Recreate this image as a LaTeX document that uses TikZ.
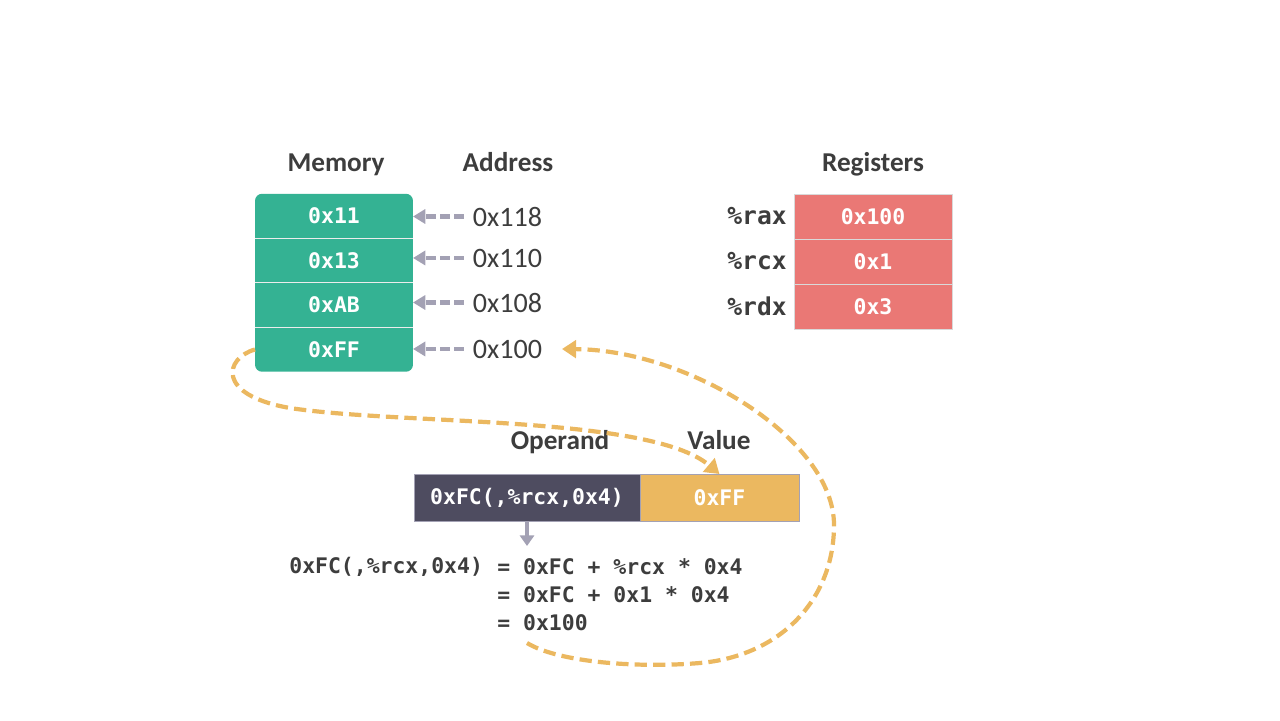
\documentclass[tikz,border=0pt]{standalone}
\usepackage{fontspec}
\setmainfont{Carlito}
\newfontfamily\codefont{DejaVu Sans Mono}
\usetikzlibrary{arrows.meta,backgrounds,fit,positioning}
\definecolor{memgreen}{HTML}{34B293}
\definecolor{regred}{HTML}{EA7875}
\definecolor{opdark}{HTML}{4E4C60}
\definecolor{valgold}{HTML}{EBB860}
\definecolor{arrowgray}{HTML}{A3A1B4}
\definecolor{txtgray}{HTML}{3D3D3D}

\begin{document}
\begin{tikzpicture}[x=0.02cm,y=-0.02cm,node distance=0pt]
\tikzstyle{title}=[font=\bfseries\fontsize{15.5}{18}\selectfont,text=txtgray,anchor=base]
\tikzstyle{cell}=[minimum width=3.16cm,minimum height=0.89cm,inner sep=0pt,outer sep=0pt,text=white,font=\codefont\bfseries\fontsize{12.2}{14}\selectfont]
\tikzstyle{regcell}=[cell,fill=regred,draw=black!15,minimum height=0.9cm]
\tikzstyle{addr}=[font=\fontsize{16}{19}\selectfont,text=txtgray,anchor=base west,inner sep=2pt]
\tikzstyle{reg}=[font=\codefont\bfseries\fontsize{14}{17}\selectfont,text=txtgray,anchor=east,inner sep=4pt]
\tikzstyle{code}=[font=\codefont\bfseries\fontsize{12.2}{14}\selectfont,text=txtgray,inner sep=0pt,anchor=west]
\tikzstyle{pointer}=[-{Triangle[length=7pt,width=8pt]},arrowgray,line width=2.4pt,dash pattern=on 5.5pt off 2.5pt,shorten <=3pt]
\tikzstyle{follow}=[-{Triangle[length=8pt,width=10pt]},valgold,line width=2.4pt,dash pattern=on 7pt off 3.5pt]

\useasboundingbox (0,0) rectangle (1280,720);

% memory
\node[title] (memt) at (336,171) {Memory};
\node[title] (addrt) at (508,171) {Address};
\node[cell] (m0) at (334,216) {0x11};
\node[cell] (m1) [below=of m0] {0x13};
\node[cell] (m2) [below=of m1] {0xAB};
\node[cell] (m3) [below=of m2] {0xFF};
\begin{scope}[on background layer]
\node[fit=(m0)(m3),inner sep=0pt,fill=memgreen,rounded corners=4pt] (mem) {};
\end{scope}
\foreach \i in {0,1,2}
  \draw[white!85!gray,line width=0.7pt] (m\i.south west) -- (m\i.south east);

\node[addr] (a0) at (469,226) {0x118};
\node[addr] (a1) at (469,267) {0x110};
\node[addr] (a2) at (469,312) {0x108};
\node[addr] (a3) at (469,358) {0x100};
\foreach \i in {0,1,2,3}
  \draw[pointer] (a\i.west) -- (a\i.west -| m\i.east);

% registers
\node[title] (regt) at (873,171) {Registers};
\node[regcell] (r0) at (873,216.5) {0x100};
\node[regcell] (r1) [below=of r0] {0x1};
\node[regcell] (r2) [below=of r1] {0x3};
\node[reg] (l0) at (r0.west) {\%rax};
\node[reg] (l1) at (r1.west) {\%rcx};
\node[reg] (l2) at (r2.west) {\%rdx};

% operand
\node[title] (opt) at (560,449) {Operand};
\node[title] (valt) at (719,449) {Value};
\node[cell,fill=opdark,draw=arrowgray,minimum width=4.52cm,minimum height=0.94cm] (op) at (527,497.5) {0xFC(,\%rcx,0x4)};
\node[cell,fill=valgold,draw=arrowgray,minimum width=3.18cm,minimum height=0.94cm] (val) [right=of op] {0xFF};
\coordinate (optip) at (527,546);
\draw[-{Triangle[length=6pt,width=8pt]},arrowgray,line width=2.4pt] (op.south) -- (optip);

% formula
\node[code] (f0) at (289,567) {0xFC(,\%rcx,0x4)};
\node[code] (f1) at (497,567) {= 0xFC + \%rcx * 0x4};
\node[code] (f2) at (497,595) {= 0xFC + 0x1 * 0x4};
\node[code] (f3) at (497,623) {= 0x100};

% follow the address
\draw[follow] (m3.west) .. controls (225,358) and (215,395) .. (290,408)
  .. controls (400,425) and (650,415) .. (val.north);
\coordinate (c2s) at (527,643);
\coordinate (c2e) at (562,349);
\draw[follow] (c2s) .. controls (560,663) and (640,668) .. (700,663)
  .. controls (780,656) and (834,600) .. (834,525)
  .. controls (834,440) and (690,350) .. (c2e);
\end{tikzpicture}
\end{document}
